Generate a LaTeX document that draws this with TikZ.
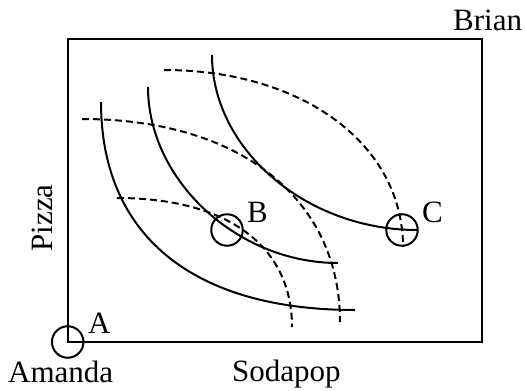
\documentclass[tikz,border=0pt]{standalone}
\usepackage{fontspec}
\setmainfont{Liberation Serif}
\tikzset{
  frame/.style={line width=2pt},
  indiff/.style={line width=2pt},
  brianline/.style={line width=2pt, dash pattern=on 7pt off 4pt},
  ring/.style={circle, draw, line width=2pt, minimum size=31.5pt, inner sep=0pt},
  lbl/.style={inner sep=0pt, anchor=base west, font=\fontsize{31}{36}\selectfont},
}
\begin{document}
\begin{tikzpicture}[x=1pt,y=-1pt]
\useasboundingbox (0,0) rectangle (525,391);
% box
\draw[frame] (67.7,39) rectangle (482,342);
% Amanda's indifference curves (solid)
\draw[indiff] (101,102) .. controls (101,235.1) and (192.4,310) .. (355,310);
\draw[indiff] (148,87) .. controls (148,180.3) and (237.3,263) .. (338,263);
\draw[indiff] (212,55) .. controls (212,149.5) and (306.3,230) .. (417,230);
% Brian's indifference curves (dashed)
\draw[brianline] (164,70) .. controls (302.6,70) and (403,144.3) .. (403,247);
\draw[brianline] (82,119) .. controls (239.4,119) and (340,198.2) .. (340,322);
\draw[brianline] (117,198) .. controls (227.3,198) and (292,245.7) .. (292,327);
% points
\node[ring] (pA) at (67.7,342) {};
\node[ring] (pB) at (227,230) {};
\node[ring] (pC) at (402,230) {};
% labels
\node[lbl] (lA) at (88,333) {A};
\node[lbl] (lB) at (247,222) {B};
\node[lbl] (lC) at (422,222) {C};
\node[lbl] (brian) at (453,30) {Brian};
\node[lbl] (amanda) at (8,382) {Amanda};
\node[lbl] (soda) at (232,381) {Sodapop};
\node[inner sep=0pt, anchor=base, rotate=90, font=\fontsize{31}{36}\selectfont] (pizza) at (52,218) {Pizza};
\end{tikzpicture}
\end{document}
